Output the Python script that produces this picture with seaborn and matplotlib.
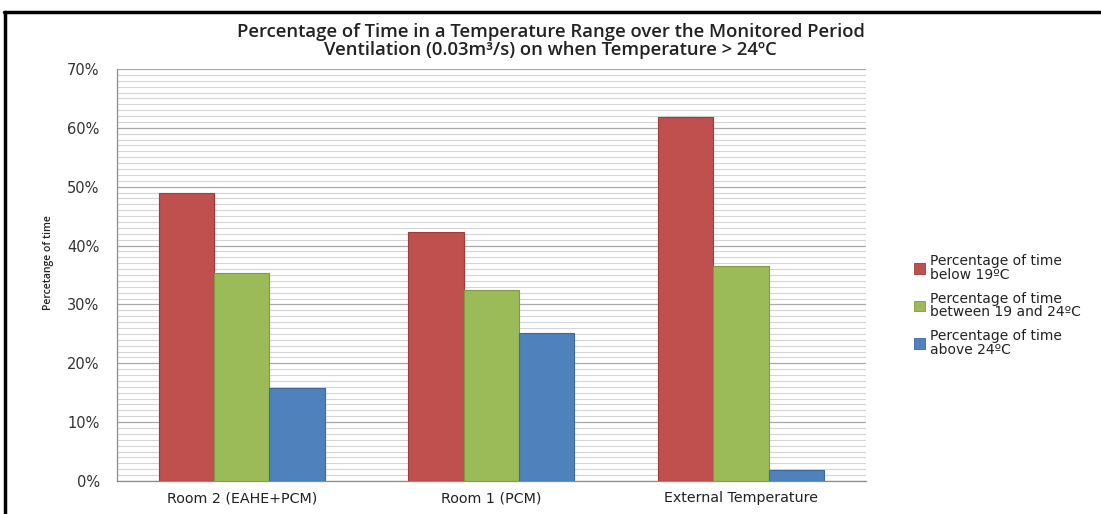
import matplotlib
matplotlib.use("Agg")
import matplotlib.pyplot as plt
import seaborn as sns
import pandas as pd
from matplotlib.ticker import MultipleLocator, PercentFormatter
from matplotlib.lines import Line2D

categories = ["Room 2 (EAHE+PCM)", "Room 1 (PCM)", "External Temperature"]
series_names = ["Percentage of time\nbelow 19ºC",
                "Percentage of time\nbetween 19 and 24ºC",
                "Percentage of time\nabove 24ºC"]
below_19 = [49.0, 42.3, 61.9]
between_19_24 = [35.4, 32.4, 36.5]
above_24 = [15.8, 25.2, 1.8]
y_ticks = [0, 10, 20, 30, 40, 50, 60, 70]

colors = ["#C0504D", "#9BBB59", "#4F81BD"]
edges = ["#9C3D3A", "#7E9A45", "#3C6A9E"]

rows = []
for name, vals in zip(series_names, [below_19, between_19_24, above_24]):
    for c, v in zip(categories, vals):
        rows.append({"cat": c, "series": name, "value": v})
df = pd.DataFrame(rows)

sns.set_style("white")
fig = plt.figure(figsize=(11.01, 5.14), dpi=100)
ax = fig.add_axes([0.1063, 0.0642, 0.680, 0.8016])

sns.barplot(data=df, x="cat", y="value", hue="series", order=categories,
            hue_order=series_names, palette=colors, width=0.665, gap=0,
            ax=ax, legend=False, saturation=1, zorder=3)
for i, cont in enumerate(ax.containers):
    for p in cont:
        p.set_edgecolor(edges[i])
        p.set_linewidth(0.8)

ax.set_ylim(0, 70)
ax.set_xlim(-0.5, 2.5)
ax.yaxis.set_major_locator(MultipleLocator(10))
ax.yaxis.set_minor_locator(MultipleLocator(1))
ax.yaxis.set_major_formatter(PercentFormatter(decimals=0))
ax.grid(False)
ax.grid(which="minor", axis="y", color="#d4d4d4", linewidth=0.8, zorder=0)
ax.grid(which="major", axis="y", color="#a8a8a8", linewidth=0.9, zorder=1)
ax.set_axisbelow(True)

for s in ["top", "right"]:
    ax.spines[s].set_visible(False)
for s in ["left", "bottom"]:
    ax.spines[s].set_color("#8c8c8c")
    ax.spines[s].set_linewidth(0.9)

ax.set_yticks(y_ticks)
ax.set_yticklabels([f"{t}%" for t in y_ticks], fontfamily="DejaVu Sans")
ax.tick_params(axis="y", which="major", direction="out", length=6.5, width=0.8,
               color="#8c8c8c", labelsize=10.5, labelcolor="#333333", pad=6)
ax.tick_params(axis="y", which="minor", length=0)

# x ticks between categories
ax.set_xticks([0, 1, 2])
ax.set_xticklabels(categories, fontfamily="DejaVu Sans", fontsize=10.3, color="#222222")
ax.tick_params(axis="x", which="major", length=0, pad=7.5)
ax.set_xticks([-0.5, 0.5, 1.5, 2.5], minor=True)
ax.tick_params(axis="x", which="minor", direction="out", length=5, width=0.8, color="#8c8c8c")

ax.set_xlabel("")
ax.set_ylabel("Percetange of time", fontfamily="Open Sans", fontsize=7.5,
              fontweight="semibold", color="#222222")
ax.yaxis.label.set(va="center", ha="center", rotation_mode="default")
ax.yaxis.set_label_coords(-0.091, 0.529)

fig.text(0.5, 0.937, "Percentage of Time in a Temperature Range over the Monitored Period",
         ha="center", va="center", fontfamily="Open Sans", fontweight="semibold",
         fontsize=13.3, color="#222222")
fig.text(0.5, 0.902, "Ventilation (0.03m³/s) on when Temperature > 24ºC",
         ha="center", va="center", fontfamily="Open Sans", fontweight="semibold",
         fontsize=13.3, color="#222222")

handles = [plt.Rectangle((0, 0), 1, 1, facecolor=c, edgecolor=e, linewidth=0.6)
           for c, e in zip(colors, edges)]
leg = fig.legend(handles, series_names, loc="upper left", bbox_to_anchor=(0.819, 0.530),
                 frameon=False, prop={"family": "DejaVu Sans", "size": 10.0},
                 handlelength=0.8, handleheight=0.8, handletextpad=0.35,
                 labelspacing=0.70, labelcolor="#222222")
for t in leg.get_texts():
    t.set_linespacing(0.98)

# outer frame (top and left borders)
fig.add_artist(Line2D([0.004, 1.0], [0.977, 0.977], transform=fig.transFigure,
                      color="black", linewidth=2.5))
fig.add_artist(Line2D([0.0045, 0.0045], [0.0, 0.977], transform=fig.transFigure,
                      color="black", linewidth=2.5))

fig.savefig("out.png", dpi=100)
